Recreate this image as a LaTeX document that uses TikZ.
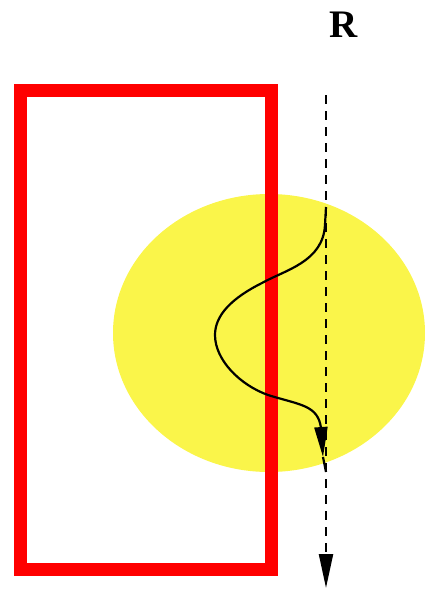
\documentclass[tikz,border=0pt]{standalone}
\usepackage{fontspec}
\setmainfont{Liberation Serif}
\usepackage{xcolor}
\usepackage{tikz}
\usetikzlibrary{arrows.meta}
\definecolor{slabred}{HTML}{FF0000}
\definecolor{blobyellow}{HTML}{FAF54A}

\begin{document}
\begin{tikzpicture}[x=1pt, y=-1pt,
    ray/.style={line width=2.2pt, dash pattern=on 9pt off 7pt, -{Triangle[length=34pt, width=14pt]}},
    wave/.style={line width=2.2pt}]
    \useasboundingbox (0,0) rectangle (426,590);
    \fill[blobyellow] (269,333) ellipse (156pt and 139pt);
    \draw[slabred, line width=13pt] (20,90) rectangle (271,569);
    \node[font=\fontsize{39}{44}\selectfont\bfseries] (rlabel) at (344,25) {R};
    \coordinate (raytop) at (326,95);
    \coordinate (raybot) at (326,588);
    \draw[ray] (raytop) -- (raybot);
    % wavy path
    \coordinate (wavestart) at (326,207);
    \coordinate (wavemid) at (323,457);
    \coordinate (waveend) at (326,472);
    \draw[wave, -{Triangle[length=30pt, width=13pt]}] (wavestart) -- (325,225)
      .. controls (323,262) and (285,270) .. (262,283)
      .. controls (232,298) and (215,315) .. (215,335)
      .. controls (215,360) and (240,385) .. (268,395)
      .. controls (300,405) and (318,405) .. (321,428) -- (wavemid);
    \draw[wave] (wavemid) -- (waveend);
\end{tikzpicture}
\end{document}
